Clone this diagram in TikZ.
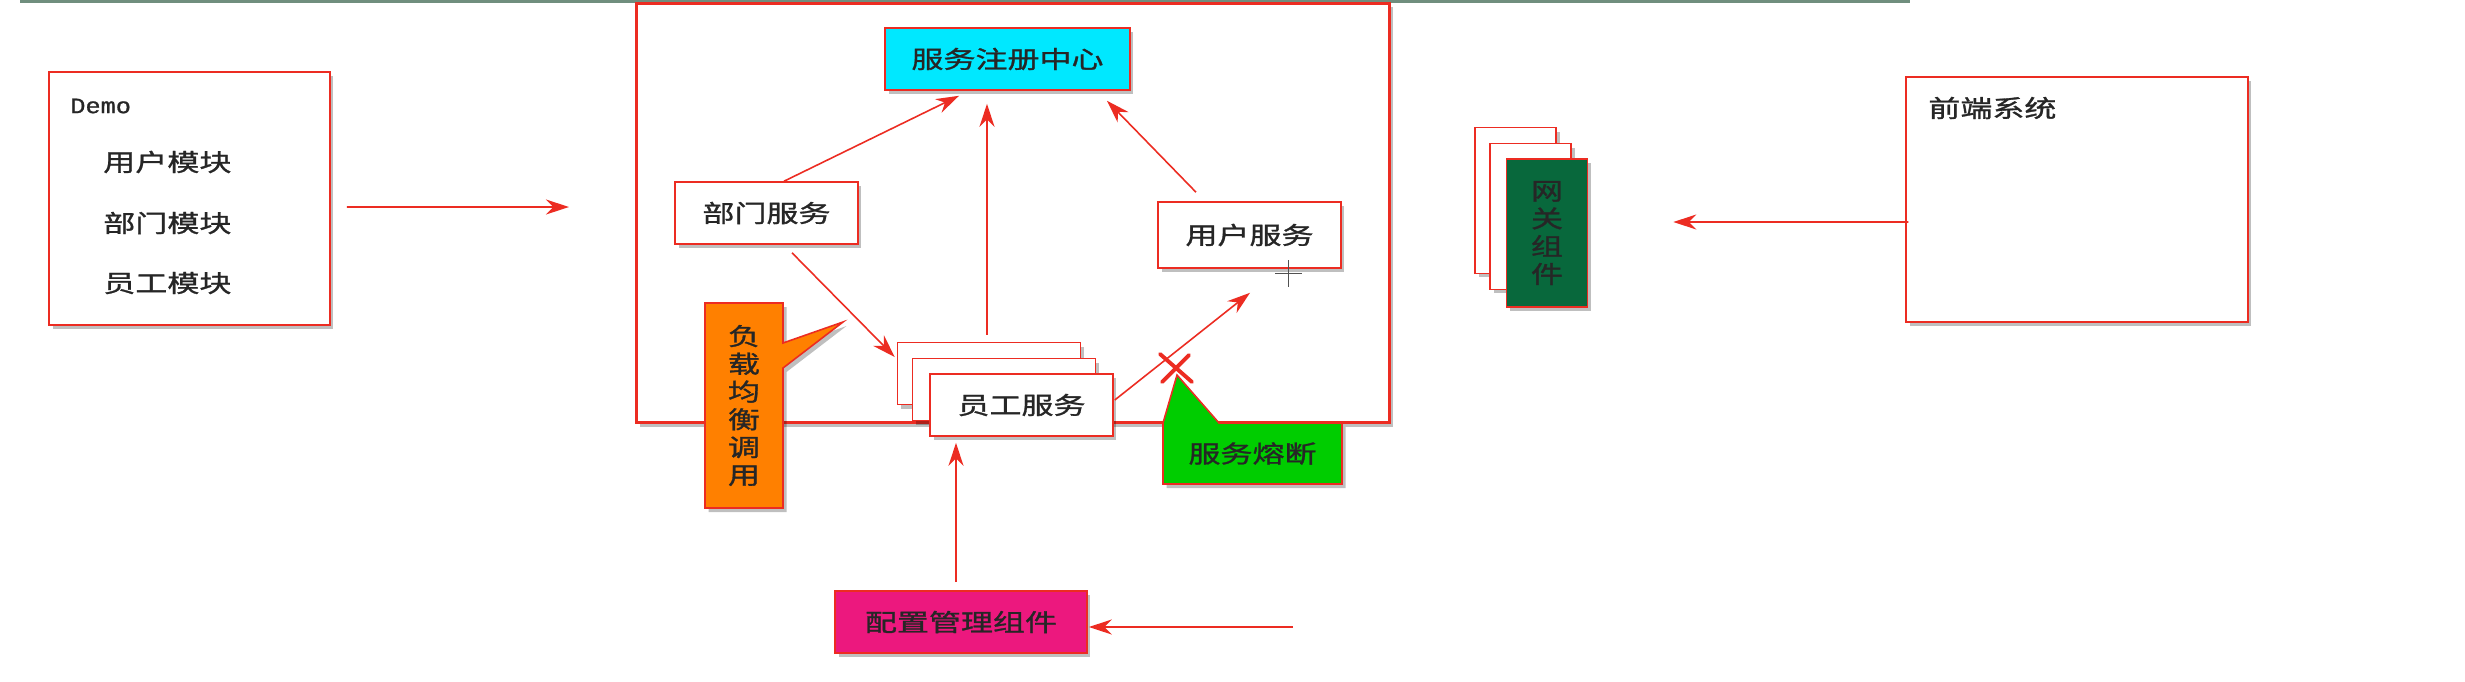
\documentclass[tikz,border=0pt]{standalone}
\usepackage{fontspec}
\usepackage{tikz}
\usetikzlibrary{shapes,arrows.meta,positioning,calc,shadows}
\newfontfamily\cjk[FakeStretch=1.33, FakeBold=1.2]{Noto Sans CJK SC}
\newfontfamily\demofont[FakeStretch=1.15, FakeBold=1]{Liberation Mono}
\definecolor{linered}{RGB}{236,44,34}
\definecolor{textgray}{RGB}{38,38,38}
\definecolor{regcyan}{RGB}{0,232,255}
\definecolor{lborange}{RGB}{255,128,0}
\definecolor{brkgreen}{RGB}{0,205,0}
\definecolor{cfgpink}{RGB}{236,24,126}
\definecolor{gwgreen}{RGB}{8,104,60}
\definecolor{topgray}{RGB}{112,142,126}

\begin{document}
\begin{tikzpicture}[x=0.02cm, y=-0.02cm,
        shade box/.style={drop shadow={shadow xshift=0.07cm, shadow yshift=-0.08cm, fill=black, opacity=0.25}},
        box/.style={rectangle, draw=linered, line width=0.9pt, fill=white, minimum width=3.66cm, minimum height=1.24cm, inner sep=0pt, align=center, text=textgray, font=\cjk\fontsize{13.7}{15.8}\selectfont, shade box},
        frame/.style={rectangle, draw=linered, line width=1.7pt, fill=white, minimum width=15.08cm, minimum height=8.4cm, shade box},
        callout/.style={draw=linered, line width=0.9pt, line join=miter, shade box},
        label/.style={inner sep=0pt, text=textgray, font=\cjk\fontsize{13.7}{15.8}\selectfont},
        vtext/.style={label, align=center},
        arrow/.style={-{Stealth[length=4.6mm, width=3mm]}, line width=0.9pt, linered},
        cross/.style={linered, line width=2.2pt, line cap=round},
        topbar/.style={topgray, line width=0.12cm}]

        \useasboundingbox (0,0) rectangle (2465,681);

        % strip at the top
        \draw[topbar] (20,0) -- (1910,0);

        % Micro service frame
        \node[frame] (ms) at (1013,213) {};

        % Demo (monolith)
        \node[box, minimum width=5.62cm, minimum height=5.06cm] (demo) at (189.5,198.5) {};
        \node[label, anchor=west, font=\demofont\fontsize{12.5}{14}\selectfont] (demotitle) at (70,106) {Demo};
        \node[label, anchor=west] (mod1) at (103,162) {用户模块};
        \node[label, anchor=west] (mod2) at (103,223) {部门模块};
        \node[label, anchor=west] (mod3) at (103,283) {员工模块};

        % Services
        \node[box, fill=regcyan, minimum width=4.9cm] (reg) at (1007.5,59) {服务注册中心};
        \node[box] (dept) at (766.5,213) {部门服务};
        \node[box, minimum height=1.32cm] (user) at (1249.5,235) {用户服务};
        \node[box] (emp1) at (989,373.5) {};
        \node[box] (emp2) at (1004,389.5) {};
        \node[box] (emp3) at (1021.5,405) {员工服务};

        % Callouts
        \draw[callout, fill=lborange] (705,303) -- (783,303) -- (783,343) -- (843,322) -- (783,368) -- (783,508) -- (705,508) -- cycle;
        \node[vtext] (lb) at (744,405.5) {负\\载\\均\\衡\\调\\用};
        \draw[callout, fill=brkgreen] (1163,423) -- (1177,375) -- (1219,423) -- (1342,423) -- (1342,484) -- (1163,484) -- cycle;
        \node[label] (brk) at (1252.5,453.5) {服务熔断};

        % Config
        \node[box, fill=cfgpink, minimum width=5.04cm] (cfg) at (961,622) {配置管理组件};

        % Gateway and front end
        \node[box, minimum width=1.62cm, minimum height=2.92cm] (gw1) at (1515.5,200.5) {};
        \node[box, minimum width=1.62cm, minimum height=2.92cm] (gw2) at (1530.5,216.5) {};
        \node[box, fill=gwgreen, minimum width=1.62cm, minimum height=2.96cm] (gw3) at (1547,233) {网\\关\\组\\件};
        \node[box, minimum width=6.84cm, minimum height=4.9cm] (front) at (2077,199.5) {};
        \node[label, anchor=west] (fronttitle) at (1928,108) {前端系统};

        \coordinate (msin) at (569,207);
        \coordinate (cfgin) at (1293,627);

        % Paths
        \draw[arrow] ($(demo.east)+(16,8.5)$) -- (msin);
        \draw[arrow] ($(dept.north)+(17.5,0)$) -- ($(reg.south)+(-48.5,5)$);
        \draw[arrow] ($(emp1.north)+(-2,-7)$) -- ($(reg.south)+(-20.5,13)$);
        \draw[arrow] ($(user.north)+(-53.5,-9)$) -- ($(reg.south)+(99.5,10)$);
        \draw[arrow] ($(dept.south)+(25.5,8)$) -- ($(emp1.west)+(-2,-16.5)$);
        \draw[arrow] ($(emp3.east)+(1,-5)$) -- ($(user.south)+(0.5,24)$);
        \draw[arrow] ($(cfg.north)+(-5,-8)$) -- ($(emp3.south)+(-65.5,6)$);
        \draw[arrow] (cfgin) -- ($(cfg.east)+(1,5)$);
        \draw[arrow] ($(front.west)+(3,22.5)$) -- ($(gw3.east)+(85,-11)$);

        % broken call
        \draw[cross] (1160,354) -- (1192,382) (1189,355) -- (1162,382);
        \draw[textgray!80, line width=0.5pt] (1275,273) -- (1302,273) (1288,260) -- (1288,287);

    \end{tikzpicture}
\end{document}
